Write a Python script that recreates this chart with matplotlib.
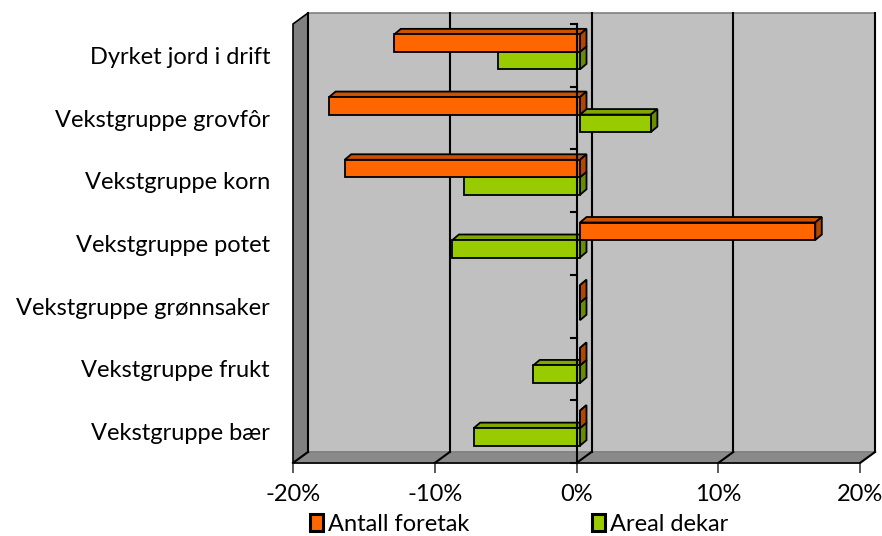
import matplotlib.pyplot as plt
from matplotlib.patches import Polygon, Patch

categories = ['Dyrket jord i drift', 'Vekstgruppe grovfôr', 'Vekstgruppe korn',
              'Vekstgruppe potet', 'Vekstgruppe grønnsaker', 'Vekstgruppe frukt',
              'Vekstgruppe bær']
antall_foretak = [-13.1, -17.7, -16.6, 16.6, 0.0, 0.0, 0.0]
areal_dekar = [-5.8, 5.0, -8.2, -9.0, 0.0, -3.3, -7.5]
xticks = [-20, -10, 0, 10, 20]
xticklabels = ['-20%', '-10%', '0%', '10%', '20%']

plt.rcParams['font.family'] = ['Lato', 'DejaVu Sans']

W, H = 882, 536
fig = plt.figure(figsize=(W / 100, H / 100), dpi=100)
# front plane of the plot in pixels
x0, x1, y_top, y_bot = 293, 860, 24, 463
ax = fig.add_axes([x0 / W, (H - y_bot) / H, (x1 - x0) / W, (y_bot - y_top) / H])
n = len(categories)
ax.set_xlim(-20, 20)
ax.set_ylim(-0.5, n - 0.5)

# data units per pixel
ux = 40 / (x1 - x0)
uy = n / (y_bot - y_top)

# wall depth
wdx, wdy = 15 * ux, 11 * uy
xmin, xmax = -20, 20
ymin, ymax = -0.5, n - 0.5

# back wall, side wall, floor
ax.add_patch(Polygon([(xmin + wdx, ymin + wdy), (xmax + wdx, ymin + wdy),
                      (xmax + wdx, ymax + wdy), (xmin + wdx, ymax + wdy)],
                     closed=True, facecolor='#c0c0c0', edgecolor='#808080',
                     lw=1.2, clip_on=False, zorder=0))
ax.add_patch(Polygon([(xmin, ymin), (xmin + wdx, ymin + wdy),
                      (xmin + wdx, ymax + wdy), (xmin, ymax)],
                     closed=True, facecolor='#808080', edgecolor='black',
                     lw=1.2, clip_on=False, zorder=1))
ax.add_patch(Polygon([(xmin, ymin), (xmax, ymin), (xmax + wdx, ymin + wdy),
                      (xmin + wdx, ymin + wdy)],
                     closed=True, facecolor='#8a8a8a', edgecolor='#808080',
                     lw=1.0, clip_on=False, zorder=1))

# gridlines on back wall and across floor
for t in xticks:
    ax.plot([t + wdx, t + wdx], [ymin + wdy, ymax + wdy], color='black', lw=1.5,
            clip_on=False, zorder=1.5)
    ax.plot([t, t + wdx], [ymin, ymin + wdy], color='black', lw=1.5,
            clip_on=False, zorder=1.5)
ax.plot([xmin, xmax], [ymin, ymin], color='black', lw=1.2, clip_on=False, zorder=1.6)

# bars
h = 17.5 * uy
bdx, bdy = 3.5 * ux, 3.5 * uy
ddx, ddy = 6.5 * ux, 5.5 * uy
pos = [n - 1 - i for i in range(n)]


def bar3d(y0, v, color, top, side):
    left, right = min(0, v), max(0, v)
    L, R = left + bdx, right + bdx
    b, t = y0 + bdy, y0 + h + bdy
    ax.add_patch(Polygon([(L, t), (R, t), (R + ddx, t + ddy), (L + ddx, t + ddy)],
                         closed=True, facecolor=top, edgecolor='black', lw=1.3,
                         clip_on=False, zorder=3))
    ax.add_patch(Polygon([(R, b), (R, t), (R + ddx, t + ddy), (R + ddx, b + ddy)],
                         closed=True, facecolor=side, edgecolor='black', lw=1.3,
                         clip_on=False, zorder=3))
    ax.barh(b, v, height=h, left=bdx, align='edge', color=color,
            edgecolor='black', lw=1.3, zorder=3)


for p, a, g in zip(pos, antall_foretak, areal_dekar):
    bar3d(p - h, g, '#99cc00', '#80a800', '#6b8c00')
    bar3d(p, a, '#ff6600', '#cc5200', '#b34700')

# front category axis at zero
ax.plot([0, 0], [ymin, ymax], color='black', lw=1.5, zorder=5, clip_on=False)
for k in range(n + 1):
    ax.plot([0, -6 * ux], [ymin + k, ymin + k], color='black', lw=1.5, zorder=5,
            clip_on=False)

for s in ax.spines.values():
    s.set_visible(False)
ax.set_facecolor('none')
ax.set_xticks(xticks, xticklabels)
ax.tick_params(axis='x', length=7, width=1.2, color='#404040', pad=8, labelsize=17)
ax.set_yticks(pos, categories)
ax.tick_params(axis='y', length=0, pad=16.5, labelsize=17)

handles = [Patch(facecolor='#ff6600', edgecolor='black', lw=2.2, label='Antall foretak'),
           Patch(facecolor='#99cc00', edgecolor='black', lw=2.2, label='Areal dekar')]
fig.legend(handles=handles, loc='lower left', bbox_to_anchor=(310 / W, 1 / H), ncol=2,
           frameon=False, fontsize=17, handlelength=0.55, handleheight=0.7,
           handletextpad=0.2, columnspacing=5.2, borderpad=0, borderaxespad=0)

fig.savefig('out.png', dpi=100)
